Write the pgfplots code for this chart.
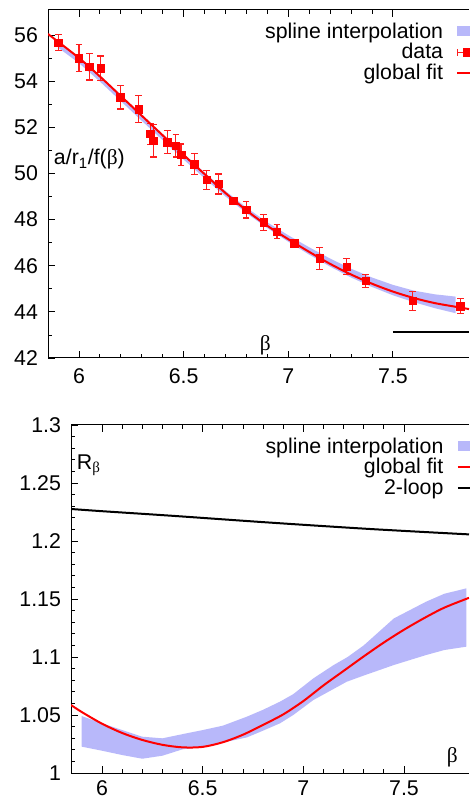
\documentclass[border=0pt]{standalone}
\usepackage{fontspec}
\setmainfont{Liberation Sans}
\newfontfamily\grk{Liberation Serif}
\usepackage{pgfplots}
\pgfplotsset{compat=1.18}
\definecolor{splineblue}{RGB}{184,184,250}
\definecolor{errred}{RGB}{255,30,30}
\newcommand{\fs}{\fontsize{16}{17}\selectfont}

\pgfplotstableread{
x y e
5.901 55.67 0.36
6.000 54.99 0.58
6.050 54.63 0.58
6.104 54.56 0.53
6.198 53.30 0.51
6.286 52.78 0.59
6.341 51.71 0.45
6.356 51.41 0.70
6.422 51.35 0.50
6.463 51.19 0.48
6.488 50.80 0.47
6.552 50.40 0.45
6.611 49.72 0.41
6.667 49.54 0.43
6.738 48.82 0.15
6.799 48.42 0.35
6.882 47.88 0.35
6.946 47.48 0.30
7.030 46.97 0.12
7.150 46.32 0.48
7.279 45.96 0.34
7.370 45.34 0.29
7.595 44.47 0.40
7.823 44.25 0.33
}\datatop

\pgfplotsset{
  myaxis/.style={
    anchor=south west, scale only axis,
    axis y line*=left, axis x line*=box,
    tick align=inside, major tick length=5pt, minor tick length=3pt,
    tick style={black, line width=0.6pt},
    axis line style={line width=0.75pt},
    /pgf/number format/assume math mode=true,
    ticklabel style={font=\fs},
    yticklabel style={xshift=-4pt},
    minor x tick num=4,
    legend cell align=right,
    legend plot pos=right,
    legend style={at={(rel axis cs:0.985,0.985)}, xshift=15pt, yshift=-3pt, anchor=north east, draw=none, fill=none, font=\fs, row sep=2pt, column sep=8pt, nodes={inner ysep=0.3pt}},
  },
  bandlegend/.style={legend image code/.code={\fill[splineblue] (0pt,-3.8pt) rectangle (15pt,3.8pt);}},
  linelegend/.style={legend image code/.code={\draw[#1] (0pt,0pt) -- (15pt,0pt);}},
  datalegend/.style={legend image code/.code={
     \draw[errred, line width=0.9pt] (0pt,0pt) -- (15pt,0pt);
     \draw[errred, line width=0.9pt] (0pt,-2.5pt) -- (0pt,2.5pt);
     \draw[errred, line width=0.9pt] (15pt,-2.5pt) -- (15pt,2.5pt);
     \fill[red] (4.7pt,-2.8pt) rectangle (10.3pt,2.8pt);}},
}

\begin{document}
\begin{tikzpicture}
\useasboundingbox (0,0) rectangle (351.75pt,600pt);

% ---------------- top panel ----------------
\begin{axis}[myaxis,
  at={(36pt,331.5pt)}, width=315.75pt, height=261pt,
  xmin=5.852, xmax=7.864, ymin=42, ymax=57.08,
  xtick={6,6.5,7,7.5}, ytick={42,44,46,48,50,52,54,56},
  minor y tick num=1,
  xticklabel style={yshift=-4.5pt},
]
\addplot[fill=splineblue, draw=none, bandlegend] coordinates {
(5.9,55.72) (6.0,55.05) (6.1,54.25) (6.2,53.40) (6.3,52.55) (6.4,51.70) (6.5,50.86) (6.6,50.04) (6.7,49.24) (6.8,48.52) (6.9,47.88) (7.0,47.32) (7.1,46.80) (7.2,46.31) (7.3,45.87) (7.4,45.49) (7.5,45.17) (7.6,44.92) (7.7,44.76) (7.8,44.66)
(7.8,43.94) (7.7,44.16) (7.6,44.42) (7.5,44.72) (7.4,45.08) (7.3,45.49) (7.2,45.96) (7.1,46.48) (7.0,47.04) (6.9,47.63) (6.8,48.28) (6.7,49.00) (6.6,49.79) (6.5,50.60) (6.4,51.44) (6.3,52.28) (6.2,53.13) (6.1,53.98) (6.0,54.78) (5.9,55.45)
};
\addplot[only marks, mark=square*, mark size=2.8pt, draw=errred, color=errred, mark options={draw=red, fill=red}, datalegend,
  error bars/.cd, y dir=both, y explicit,
  error bar style={draw=errred, color=errred, line width=0.9pt},
  error mark options={rotate=90, mark size=2.5pt, draw=errred, color=errred, line width=0.9pt},
  ] table[x=x, y=y, y error=e] {\datatop};
\addplot[red, line width=1.5pt, smooth, tension=0.5, linelegend={red, line width=1.5pt}] coordinates {
(5.852,56.04) (6.0,55.00) (6.1,54.20) (6.2,53.35) (6.3,52.50) (6.4,51.65) (6.5,50.80) (6.6,49.97) (6.7,49.15) (6.8,48.40) (6.9,47.73) (7.0,47.15) (7.1,46.60) (7.2,46.08) (7.3,45.62) (7.4,45.22) (7.5,44.88) (7.6,44.60) (7.7,44.38) (7.8,44.22) (7.864,44.12)
};
\addplot[black, line width=1.5pt, forget plot] coordinates {(7.5,43.11) (7.864,43.11)};
\legend{spline interpolation, data, global fit}
\node[anchor=west, font=\fs] at (axis cs:5.858,50.6) {a/r\textsubscript{1}/f({\grk β})};
\node[font=\fs] at (axis cs:6.89,42.55) {\grk β};
\end{axis}

% ---------------- bottom panel ----------------
\begin{axis}[myaxis,
  at={(53.25pt,20.25pt)}, width=298.5pt, height=261pt,
  xmin=5.846, xmax=7.823, ymin=1, ymax=1.3,
  xtick={6,6.5,7,7.5}, ytick={1,1.05,1.1,1.15,1.2,1.25,1.3},
  yticklabels={1,1.05,1.1,1.15,1.2,1.25,1.3},
  minor y tick num=4,
  xticklabel style={yshift=-2.5pt},
]
\addplot[fill=splineblue, draw=none, bandlegend] coordinates {
(5.899,1.0491) (6.0,1.0428) (6.1,1.0371) (6.2,1.0313) (6.3,1.0299) (6.4,1.0335) (6.5,1.0370) (6.6,1.0408) (6.72,1.0486) (6.8,1.0545) (6.884,1.0615) (6.95,1.0680) (7.05,1.0816) (7.15,1.0930) (7.22,1.1000) (7.3,1.1100) (7.45,1.1333) (7.61,1.1477) (7.7,1.1545) (7.81,1.1592)
(7.81,1.1089) (7.7,1.1060) (7.61,1.1017) (7.45,1.0931) (7.3,1.0840) (7.216,1.0787) (7.05,1.0629) (6.95,1.0500) (6.884,1.0428) (6.8,1.0365) (6.72,1.0307) (6.6,1.0262) (6.5,1.0225) (6.4,1.0204) (6.3,1.0149) (6.2,1.0123) (6.1,1.0155) (6.0,1.0192) (5.899,1.0227)
};
\addplot[red, line width=1.5pt, smooth, tension=0.5, linelegend={red, line width=1.5pt}] coordinates {
(5.846,1.0586) (5.9,1.0525) (6.0,1.0425) (6.1,1.0345) (6.2,1.0285) (6.3,1.0243) (6.4,1.0221) (6.5,1.0225) (6.6,1.0265) (6.7,1.0330) (6.8,1.0415) (6.9,1.0505) (7.0,1.0620) (7.1,1.0755) (7.2,1.0880) (7.3,1.1005) (7.4,1.1125) (7.5,1.1235) (7.6,1.1335) (7.7,1.1425) (7.823,1.1510)
};
\addplot[black, line width=1.5pt, smooth, linelegend={black, line width=1.5pt}] coordinates {
(5.846,1.2276) (6.0,1.2257) (6.343,1.2218) (6.84,1.2158) (7.336,1.2103) (7.823,1.2057)
};
\legend{spline interpolation, global fit, 2-loop}
\node[anchor=west, font=\fs] at (axis cs:5.852,1.2655) {R\textsubscript{\grk β}};
\node[font=\fs] at (axis cs:7.74,1.0138) {\grk β};
\end{axis}
\end{tikzpicture}
\end{document}
